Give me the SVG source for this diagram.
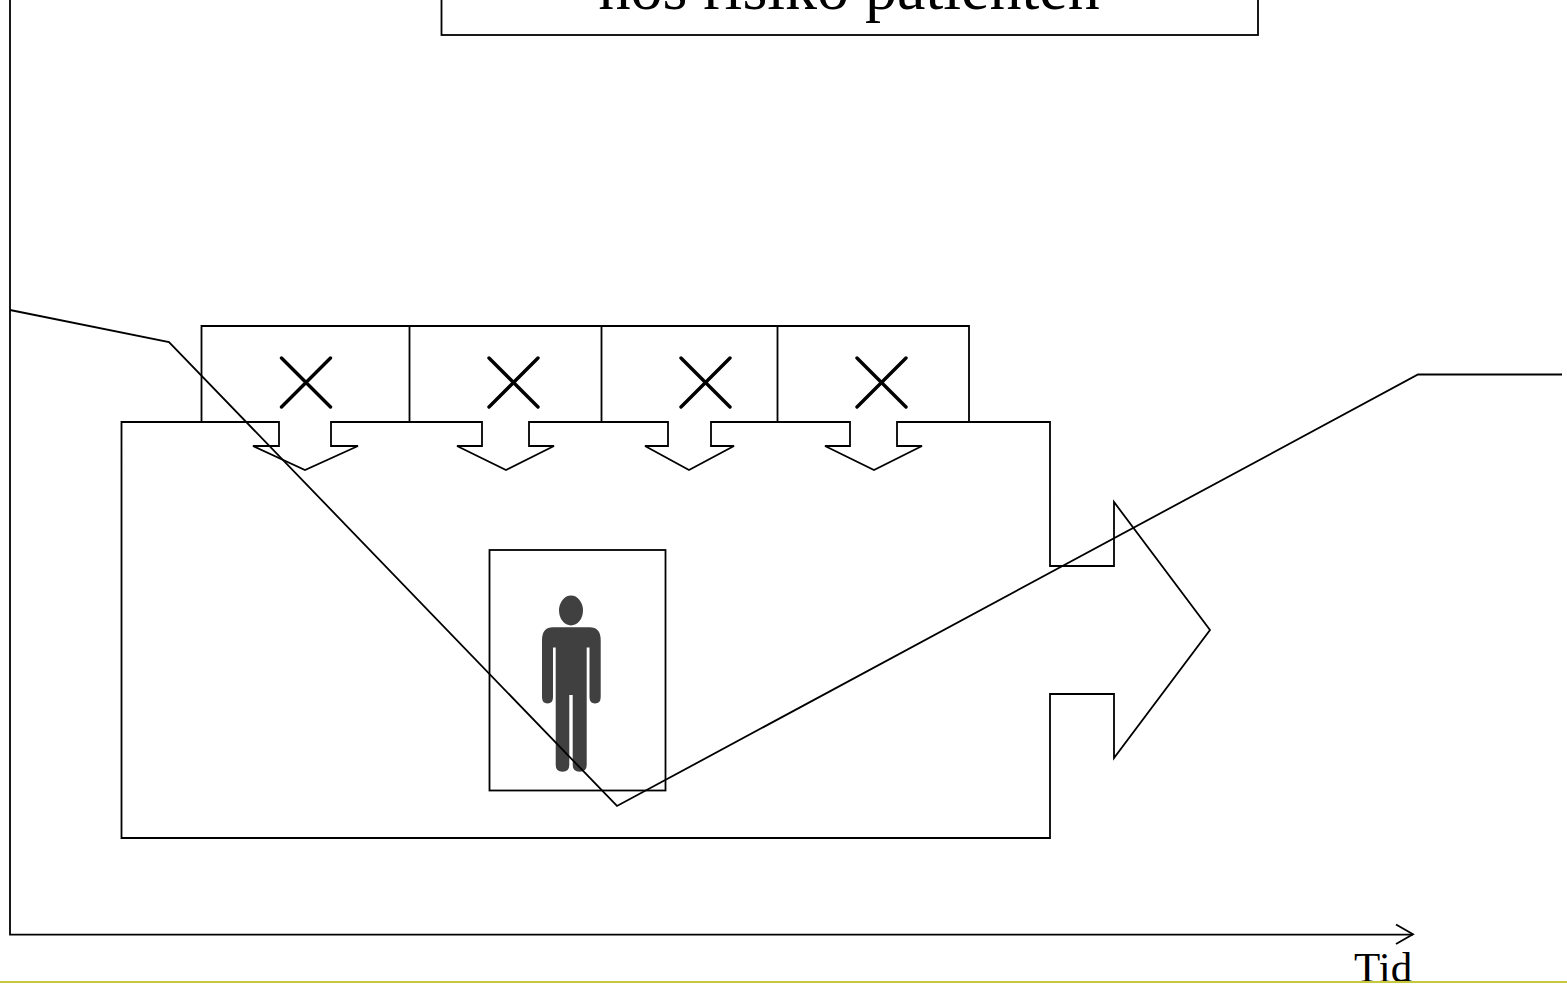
<svg xmlns="http://www.w3.org/2000/svg" width="1567" height="984" viewBox="0 0 1567 984">
<style>
.l{fill:none;stroke:#000;stroke-width:1.8;stroke-linejoin:miter}
.t{font-family:"Liberation Serif","Times New Roman",serif;fill:#000}
.x{fill:none;stroke:#000;stroke-width:3.4;stroke-linecap:round}
</style>
<rect width="1567" height="984" fill="#fff"/>
<g id="title"><rect class="l" x="441.500" y="-40" width="816.500" height="75"/>
<text class="t" x="849" y="9" font-size="64" text-anchor="middle">hos risiko patienten</text></g>
<g id="boxes">
<path class="l" d="M201.500 422V326H969V422M409.500 326V422M601.500 326V422M777.500 326V422"/>
<path class="x" d="M281.500 358L330.500 407M330.500 358L281.500 407M489 358L538 407M538 358L489 407M681 358L730 407M730 358L681 407M857 358L906 407M906 358L857 407"/>
</g>
<g id="big-arrow"><path class="l" d="M121.500 422H279V446H253L305 470L358 446H331V422H482V446H457L506 470L554 446H529V422H668V446H645L689 470L734 446H711V422H850V446H825L874 470L922 446H897V422H1050V566H1114V502L1210 630L1114 758V694H1050V838H121.500Z"/></g>
<g id="patient"><rect class="l" x="489.500" y="550" width="176" height="240.500"/>
<ellipse cx="571" cy="610.500" rx="12" ry="15" fill="#404040"/>
<path fill="#404040" d="M553 627.300H589.500Q600.700 627.300 600.700 640V697Q600.700 703.500 595 703.500Q589.500 703.500 589.500 697V647.500H586.700V765Q586.700 771.700 579.700 771.700Q572.700 771.700 572.700 765V695H569.300V765Q569.300 771.700 562.500 771.700Q555.700 771.700 555.700 765V647.500H553V697Q553 703.500 547.500 703.500Q542 703.500 542 697V640Q542 627.300 553 627.300Z"/></g>
<g id="connectors">
<path class="l" d="M10 0V934.700H1413"/>
<path class="l" d="M1396 924.500L1413 934.300L1396 944"/>
<path class="l" d="M10 310L169 342L617 806L1418 374.500H1562"/>
</g>
<g id="axis-label"><text class="t" x="1354" y="982" font-size="43">Tid</text></g>
<rect id="footer-line" x="0" y="981" width="1567" height="2" fill="#c8c83c"/>
</svg>
